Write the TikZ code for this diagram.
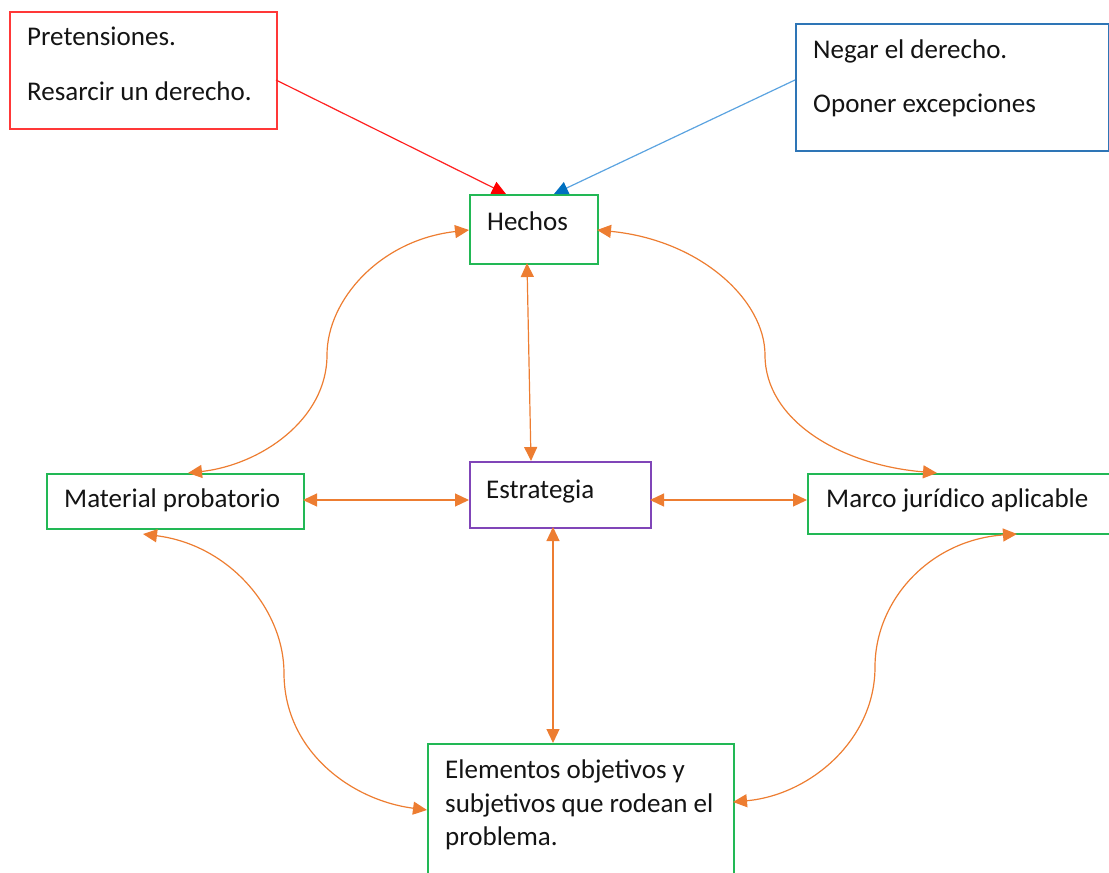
\documentclass[tikz,border=0pt]{standalone}
\usepackage{fontspec}
\setmainfont{Carlito}
\usetikzlibrary{arrows.meta}
\definecolor{orng}{HTML}{ED7D31}
\definecolor{grn}{HTML}{22B855}
\definecolor{prp}{HTML}{8045B8}
\definecolor{rdbox}{HTML}{FF3838}
\definecolor{rdline}{HTML}{FF2020}
\definecolor{blbox}{HTML}{2E75B6}
\definecolor{blline}{HTML}{5BA3E0}
\definecolor{blhead}{HTML}{0070C0}
\definecolor{txtc}{HTML}{141414}
\begin{document}
\begin{tikzpicture}[x=1pt,y=-1pt,
  box/.style={draw, line width=1.6pt, fill=white, anchor=north west, inner sep=0pt},
  txt/.style={anchor=base west, inner sep=0pt, text=txtc, font=\fontsize{27}{34}\selectfont},
  conn/.style={draw=orng, line width=1.2pt, {Triangle[length=14pt,width=13pt,color=orng]}-{Triangle[length=14pt,width=13pt,color=orng]}}
]
\useasboundingbox (0,0) rectangle (1109,873);

% boxes
\node[box, draw=rdbox, minimum width=267pt, minimum height=117pt] (pret) at (9,11) {};
\node[box, draw=blbox, minimum width=313pt, minimum height=127pt] (neg) at (795,23) {};
\node[box, draw=grn, minimum width=128pt, minimum height=69pt] (hech) at (469,194) {};
\node[box, draw=prp, minimum width=181pt, minimum height=66pt] (estr) at (469,461) {};
\node[box, draw=grn, minimum width=257pt, minimum height=55pt] (mat) at (46,473) {};
\node[box, draw=grn, minimum width=310pt, minimum height=60pt] (marco) at (807,473) {};
\node[box, draw=grn, minimum width=306pt, minimum height=145pt] (elem) at (427,743) {};

% texts
\node[txt] (t1) at (27,45) {Pretensiones.};
\node[txt] (t2) at (27,100) {Resarcir un derecho.};
\node[txt] (t3) at (813,58) {Negar el derecho.};
\node[txt] (t4) at (813,112) {Oponer excepciones};
\node[txt] (t5) at (487,230) {Hechos};
\node[txt] (t6) at (486,498) {Estrategia};
\node[txt] (t7) at (64,507) {Material probatorio};
\node[txt] (t8) at (826,507) {Marco jurídico aplicable};
\node[txt] (t9) at (445,778) {Elementos objetivos y};
\node[txt] (t10) at (445,812) {subjetivos que rodean el};
\node[txt] (t11) at (445,845) {problema.};

% coordinates on boxes
\coordinate (pretR) at (276,80);
\coordinate (negL) at (795,80);
\coordinate (hechT1) at (506,194);
\coordinate (hechT2) at (554,194);
\coordinate (hechL) at (469,230);
\coordinate (hechR) at (597,230);
\coordinate (hechB) at (527,263);
\coordinate (estrT) at (531,461);
\coordinate (estrB) at (553,527);
\coordinate (estrL) at (469,500);
\coordinate (estrR) at (650,500);
\coordinate (matR) at (303,500);
\coordinate (matT) at (188,473);
\coordinate (matB) at (143,534);
\coordinate (marcoL) at (807,500);
\coordinate (marcoT) at (937,473);
\coordinate (marcoB) at (1017,534);
\coordinate (elemT) at (553,743);
\coordinate (elemL) at (427,810);
\coordinate (elemR) at (733,802);

% red and blue connectors
\draw[rdline, line width=1.2pt, -{Triangle[length=14pt,width=13pt,color=red]}] (pretR) -- (hechT1);
\draw[blline, line width=1.2pt, -{Triangle[length=14pt,width=13pt,color=blhead]}] (negL) -- (hechT2);

% orange straight connectors
\draw[conn] (hechB) -- (estrT);
\draw[conn] (estrB) -- (elemT);
\draw[conn] (matR) -- (estrL);
\draw[conn] (estrR) -- (marcoL);

% orange curved connectors
\draw[conn] (hechL) .. controls (380,240) and (327,300) .. (327,355) .. controls (327,420) and (260,465) .. (matT);
\draw[conn] (hechR) .. controls (700,240) and (765,300) .. (765,355) .. controls (765,420) and (840,465) .. (marcoT);
\draw[conn] (matB) .. controls (230,545) and (284,610) .. (284,673) .. controls (284,750) and (350,800) .. (elemL);
\draw[conn] (marcoB) .. controls (930,540) and (875,600) .. (875,667) .. controls (875,740) and (810,795) .. (elemR);
\end{tikzpicture}
\end{document}
